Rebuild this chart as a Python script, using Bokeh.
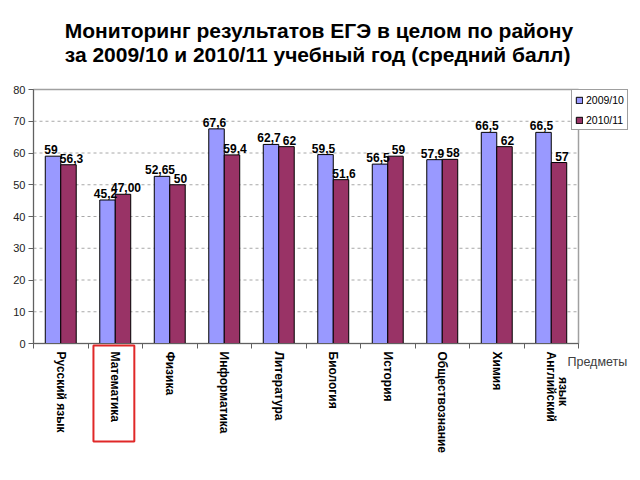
import math
from bokeh.plotting import figure
from bokeh.models import (Range1d, FixedTicker, ColumnDataSource, LabelSet, Label,
                          BoxAnnotation, Title)
from bokeh.transform import dodge
from bokeh.core.properties import value
from bokeh.embed import file_html
from bokeh.resources import INLINE

# ---------------- data ----------------
title_line1 = "Мониторинг результатов ЕГЭ в целом по району"
title_line2 = "за 2009/10 и 2010/11 учебный год  (средний балл)"
subjects = ["Русский язык", "Математика", "Физика", "Информатика", "Литература",
            "Биология", "История", "Обществознание", "Химия", "Английский\nязык"]
series_names = ["2009/10", "2010/11"]
scores_2009_10 = [59, 45.2, 52.65, 67.6, 62.7, 59.5, 56.5, 57.9, 66.5, 66.5]
scores_2010_11 = [56.3, 47.00, 50, 59.4, 62, 51.6, 59, 58, 62, 57]
labels_2009_10 = ["59", "45,2", "52,65", "67,6", "62,7", "59,5", "56,5", "57,9", "66,5", "66,5"]
labels_2010_11 = ["56,3", "47,00", "50", "59,4", "62", "51,6", "59", "58", "62", "57"]
y_ticks = [0, 10, 20, 30, 40, 50, 60, 70, 80]
x_axis_title = "Предметы"
highlighted_subject = "Математика"

FONT = "Liberation Sans"
BLUE = "#9999FF"
RED = "#993366"
GREY = "#a0a0a0"

# ---------------- layout (pixels) ----------------
W_PX, H_PX = 640, 480
FRAME_TOP = 70               # the whole area below the titles is the frame
AX_LEFT, AX_RIGHT = 33, 578  # where the value area sits inside the canvas
AX_TOP, AX_BOTTOM = 89, 343

n = len(subjects)
ymin, ymax = y_ticks[0], y_ticks[-1]
sx = (AX_RIGHT - AX_LEFT) / n
sy = (AX_BOTTOM - AX_TOP) / (ymax - ymin)
x_start = -AX_LEFT / sx
x_end = x_start + W_PX / sx
y_end = ymax + (AX_TOP - FRAME_TOP) / sy
y_start = ymin - (H_PX - AX_BOTTOM) / sy

centers = [i + 0.5 for i in range(n)]
bounds = [float(i) for i in range(n + 1)]

src = ColumnDataSource(dict(x=centers, a=scores_2009_10, b=scores_2010_11,
                            la=labels_2009_10, lb=labels_2010_11))

p = figure(width=W_PX, height=H_PX, output_backend="svg", toolbar_location=None,
           x_range=Range1d(x_start, x_end), y_range=Range1d(y_start, y_end),
           min_border_left=0, min_border_right=0, min_border_top=FRAME_TOP,
           min_border_bottom=0)
p.title = None

ttl = Title(text=title_line1 + "\n" + title_line2, align="center", text_font=FONT,
            text_font_size="21px", text_font_style="bold", text_color="#000000",
            text_line_height=1.03, standoff=9)
p.add_layout(ttl, "above")

# dashed grid lines (only inside the value area) and plot-area border
grid_y = y_ticks[1:-1]
p.segment(x0=[0] * len(grid_y), x1=[n] * len(grid_y), y0=grid_y, y1=grid_y,
          line_color="#a8a8a8", line_dash="3 3", line_width=1)
p.quad(left=[0], right=[n], bottom=[ymin], top=[ymax], fill_color=None,
       line_color=GREY, line_width=1.5)

BW = 0.284
OFF = 0.142
p.vbar(x=dodge("x", -OFF), top="a", width=BW, source=src, fill_color=BLUE,
       line_color="#000000", line_width=1, legend_label=series_names[0])
p.vbar(x=dodge("x", OFF), top="b", width=BW, source=src, fill_color=RED,
       line_color="#000000", line_width=1, legend_label=series_names[1])

for col, lab, off, px_shift in (("a", "la", -OFF, -2), ("b", "lb", OFF, 3)):
    ls = LabelSet(x=dodge("x", off), y=col, text=lab, source=src, text_align="center",
                  text_baseline="bottom", x_offset=px_shift, y_offset=2,
                  text_font=value(FONT), text_font_size=value("12px"),
                  text_font_style="bold", text_color="#000000")
    p.add_layout(ls)

# axes, drawn at fixed data locations
TICK_FONT_SIZE = 12
xa = p.xaxis[0]
xa.fixed_location = 0
xa.bounds = (0, n)
xa.ticker = FixedTicker(ticks=centers, minor_ticks=bounds)

overrides = {}
extra_lines = []   # wrapped category names: further lines are drawn beside the first
for c, s in zip(centers, subjects):
    lines = s.split("\n")
    overrides[c] = lines[0]
    for k, extra in enumerate(lines[1:], start=1):
        extra_lines.append((c, extra, k))
xa.major_label_overrides = overrides
xa.major_label_orientation = "vertical"
xa.major_tick_out = 0
xa.major_tick_in = 0
xa.minor_tick_out = 5
xa.minor_tick_in = 0
xa.minor_tick_line_color = "#606060"
xa.major_label_standoff = 3
xa.major_label_text_font = FONT
xa.major_label_text_font_size = f"{TICK_FONT_SIZE}px"
xa.major_label_text_font_style = "bold"
xa.major_label_text_color = "#000000"
xa.axis_line_color = "#606060"

for c, extra, k in extra_lines:
    p.add_layout(Label(x=c, y=0, x_offset=12 * k, y_offset=-48, text=extra,
                       angle=-math.pi / 2, text_align="center", text_baseline="middle",
                       text_font=FONT, text_font_size=f"{TICK_FONT_SIZE}px",
                       text_font_style="bold", text_color="#000000"))

ya = p.yaxis[0]
ya.fixed_location = 0
ya.bounds = (ymin, ymax)
ya.ticker = FixedTicker(ticks=y_ticks)
ya.major_tick_out = 5
ya.major_tick_in = 0
ya.minor_tick_line_color = None
ya.major_label_standoff = 3
ya.major_label_text_font = FONT
ya.major_label_text_font_size = "11px"
ya.major_label_text_color = "#222222"
ya.axis_line_color = "#606060"
ya.major_tick_line_color = "#606060"

p.xgrid.visible = False
p.ygrid.visible = False
p.outline_line_color = None
p.background_fill_color = "#ffffff"
p.border_fill_color = "#ffffff"

# x axis title to the right of the axis end
p.add_layout(Label(x=n, y=0, x_offset=-11, y_offset=-11, text=x_axis_title,
                   text_align="left", text_baseline="top", text_font=FONT,
                   text_font_size="12.5px", text_color="#404040"))

# highlight box around the highlighted subject label
hi = subjects.index(highlighted_subject)
p.add_layout(BoxAnnotation(left=hi + 0.10, right=hi + 0.85, top=-0.6, bottom=-30.9,
                           fill_alpha=0, line_color="#e02828", line_alpha=1,
                           line_width=2))

lg = p.legend[0]
lg.location = (571, H_PX - 130)
lg.border_line_color = "#404040"
lg.border_line_width = 1
lg.background_fill_color = "#ffffff"
lg.background_fill_alpha = 1
lg.padding = 3
lg.spacing = 7
lg.margin = 0
lg.glyph_width = 8
lg.glyph_height = 8
lg.label_height = 13
lg.label_standoff = 3
lg.label_text_font = FONT
lg.label_text_font_size = "10.5px"
lg.label_text_color = "#000000"

open("out.html", "w").write(file_html(p, INLINE))
